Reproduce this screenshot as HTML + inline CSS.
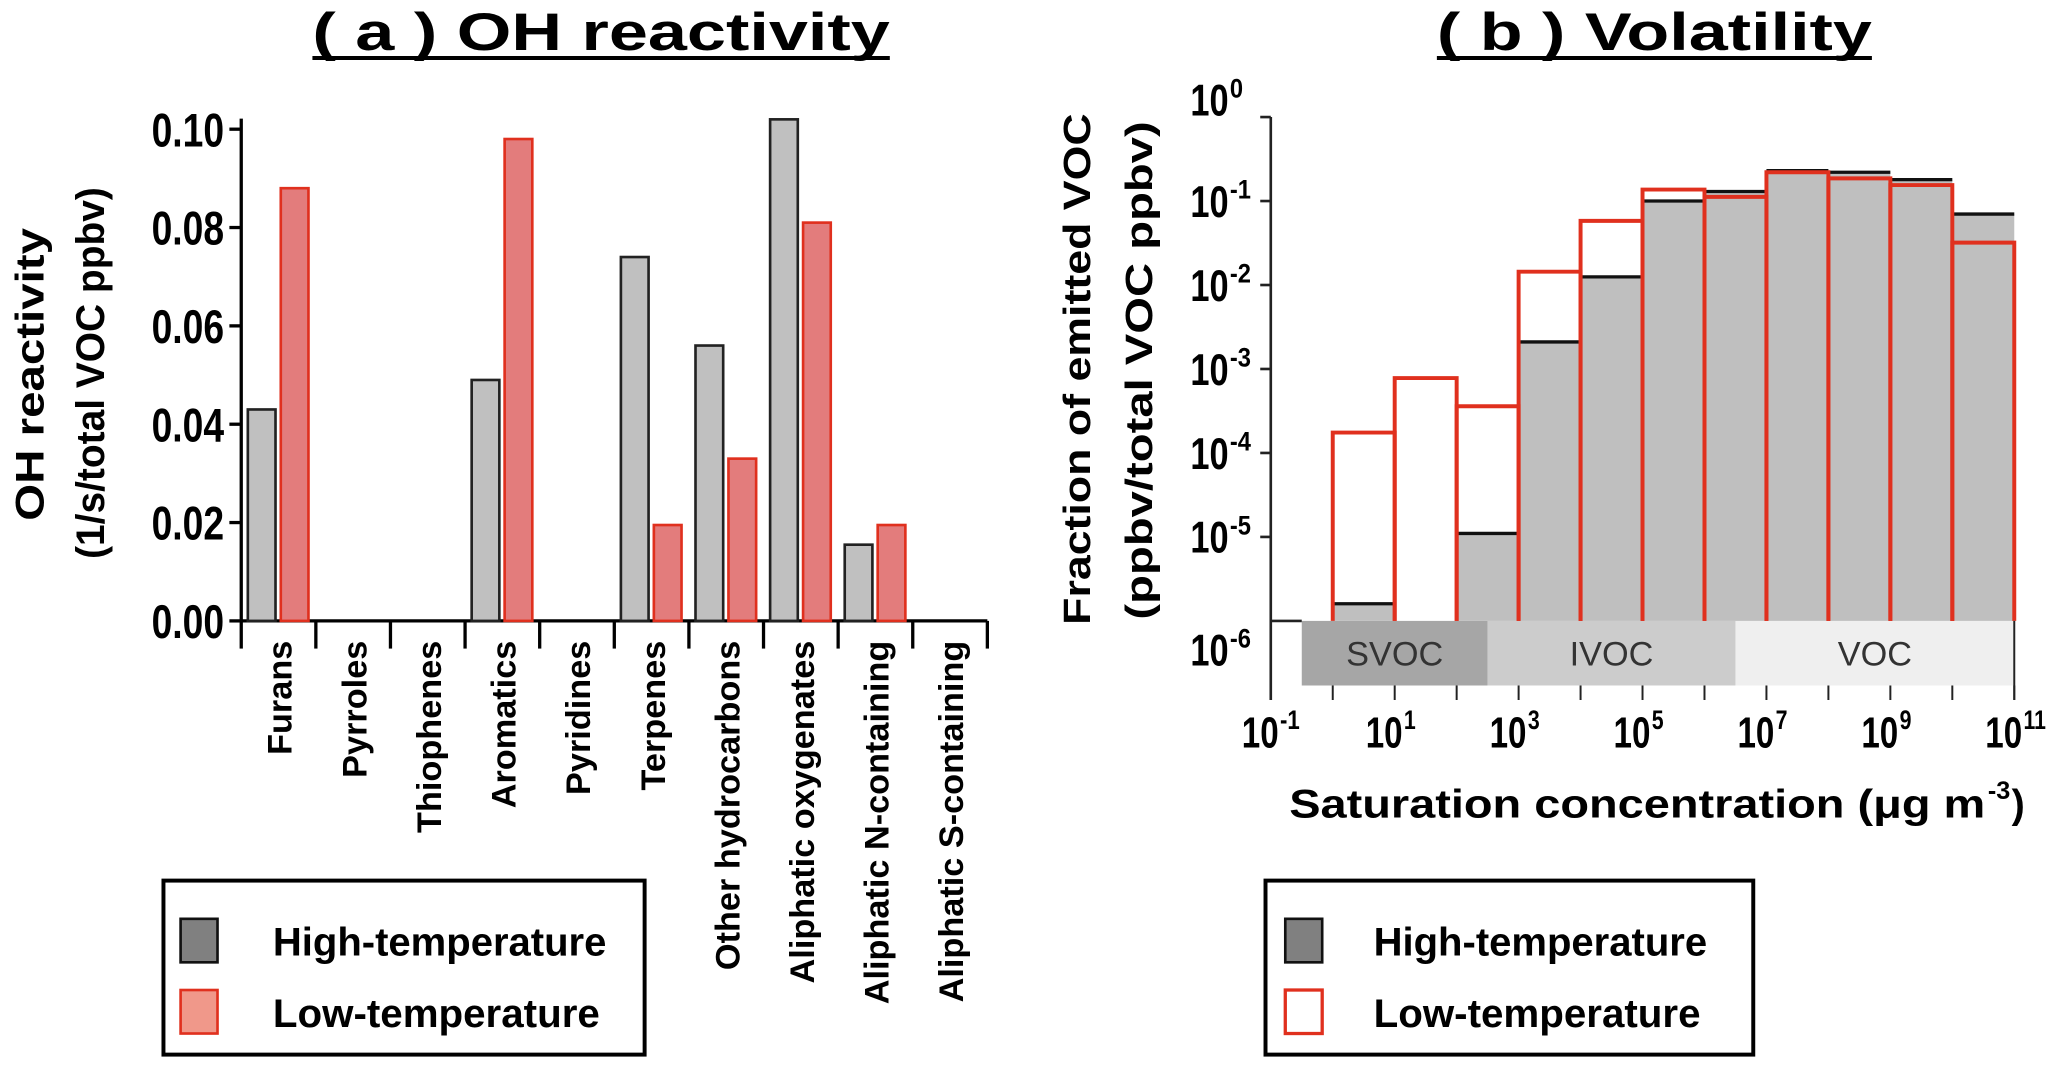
<!DOCTYPE html>
<html><head><meta charset="utf-8">
<style>
html,body{margin:0;padding:0;background:#fff;}
svg{display:block;}
.nb{font-family:"Liberation Sans Narrow","Liberation Sans",sans-serif;font-weight:bold;}
.b{font-family:"Liberation Sans",sans-serif;font-weight:bold;}
</style></head>
<body>
<svg id="chart" width="2067" height="1067" viewBox="0 0 1568 809.4" preserveAspectRatio="none" xmlns="http://www.w3.org/2000/svg">
  <text class="b" x="456" y="38" font-size="40" text-anchor="middle" textLength="438" lengthAdjust="spacingAndGlyphs">( a ) OH reactivity</text>
  <line x1="237" y1="44" x2="675" y2="44" stroke="#000" stroke-width="3"/>
  <text class="b" x="1255" y="38" font-size="40" text-anchor="middle" textLength="330" lengthAdjust="spacingAndGlyphs">( b ) Volatility</text>
  <line x1="1090" y1="44" x2="1420" y2="44" stroke="#000" stroke-width="3"/>

  <g id="panelA"></g>
  <g id="panelB"></g>

  <text class="b" transform="translate(33,284) rotate(-90)" font-size="30" text-anchor="middle" textLength="222" lengthAdjust="spacingAndGlyphs">OH reactivity</text>
  <text class="b" transform="translate(79,283) rotate(-90)" font-size="30" text-anchor="middle" textLength="282" lengthAdjust="spacingAndGlyphs">(1/s/total VOC ppbv)</text>

  <text class="b" transform="translate(827,280) rotate(-90)" font-size="29" text-anchor="middle" textLength="388" lengthAdjust="spacingAndGlyphs">Fraction of emitted VOC</text>
  <text class="b" transform="translate(874,281) rotate(-90)" font-size="29" text-anchor="middle" textLength="378" lengthAdjust="spacingAndGlyphs">(ppbv/total VOC ppbv)</text>
  <text class="b" x="978" y="620" font-size="30" textLength="528" lengthAdjust="spacingAndGlyphs">Saturation concentration (μg  m</text>
  <text class="b" x="1508" y="606" font-size="19" textLength="17" lengthAdjust="spacingAndGlyphs">-3</text>
  <text class="b" x="1526" y="620" font-size="30">)</text>

  <g>
    <rect x="124" y="668" width="365" height="132" fill="#fff" stroke="#000" stroke-width="3"/>
    <rect x="137" y="697" width="28" height="33" fill="#808080" stroke="#111" stroke-width="2"/>
    <text class="nb" x="207" y="725" font-size="30" textLength="253" lengthAdjust="spacingAndGlyphs">High-temperature</text>
    <rect x="137" y="751" width="28" height="33" fill="#f0988a" stroke="#e0301e" stroke-width="2"/>
    <text class="nb" x="207" y="779" font-size="30" textLength="248" lengthAdjust="spacingAndGlyphs">Low-temperature</text>
  </g>
  <g>
    <rect x="960" y="668" width="370" height="132" fill="#fff" stroke="#000" stroke-width="3"/>
    <rect x="975" y="697" width="28" height="33" fill="#808080" stroke="#111" stroke-width="2"/>
    <text class="nb" x="1042" y="725" font-size="30" textLength="253" lengthAdjust="spacingAndGlyphs">High-temperature</text>
    <rect x="975" y="751" width="28" height="33" fill="#fff" stroke="#e0301e" stroke-width="2.5"/>
    <text class="nb" x="1042" y="779" font-size="30" textLength="248" lengthAdjust="spacingAndGlyphs">Low-temperature</text>
  </g>
</svg>
<script>
// Panel a data
const categories = ["Furans","Pyrroles","Thiophenes","Aromatics","Pyridines","Terpenes","Other hydrocarbons","Aliphatic oxygenates","Aliphatic N-containing","Aliphatic S-containing"];
const highTemp = [0.043,0,0,0.049,0,0.074,0.056,0.102,0.0155,0];
const lowTemp = [0.088,0,0,0.098,0,0.0195,0.033,0.081,0.0195,0];
const yTicksA = [0,0.02,0.04,0.06,0.08,0.10];
const yTickLabelsA = ["0.00","0.02","0.04","0.06","0.08","0.10"];
// Panel b data (bins one decade wide, starting at log10 C = binStart)
const binStart = [0,1,2,3,4,5,6,7,8,9,10];
const volHigh = [1.6e-6,null,1.1e-5,2.1e-3,0.0125,0.10,0.13,0.23,0.22,0.18,0.07];
const volLow = [1.75e-4,7.8e-4,3.6e-4,0.0144,0.058,0.137,0.112,0.22,0.186,0.155,0.032];
const yExpB = [0,-1,-2,-3,-4,-5,-6];
const xExpB = [-1,1,3,5,7,9,11];
const bands = ["SVOC","IVOC","VOC"];
const bandRanges = [[-0.5,2.5],[2.5,6.5],[6.5,11]];

const NS = "http://www.w3.org/2000/svg";
function mk(parent, tag, attrs){ const e=document.createElementNS(NS,tag); for(const k in attrs) e.setAttribute(k,attrs[k]); parent.appendChild(e); return e; }

// ---- Panel A
const A = document.getElementById('panelA');
const ax0 = 183, ax1 = 749, ay0 = 471, ayTop = 98;
const yA = v => ay0 - (v/0.10)*(ay0-ayTop);
const catW = (ax1-ax0)/categories.length;
const xA = i => ax0 + i*catW;
let l = mk(A,'line',{x1:ax0,y1:90,x2:ax0,y2:ay0,stroke:'#000','stroke-width':2.5});


l = mk(A,'line',{x1:ax0,y1:ay0,x2:ax1,y2:ay0,stroke:'#000','stroke-width':2.5});


yTicksA.forEach((t,i)=>{
  const y=yA(t);
  const tk=mk(A,'line',{x1:ax0-9,y1:y,x2:ax0,y2:y,stroke:'#000','stroke-width':2.5});
  
  
  const tx=mk(A,'text',{x:115,y:y+13,'font-size':36,class:'nb',textLength:55,lengthAdjust:'spacingAndGlyphs'});
  tx.textContent=yTickLabelsA[i];
  
  
});
for(let i=0;i<=categories.length;i++){
  const tk=mk(A,'line',{x1:xA(i),y1:ay0,x2:xA(i),y2:ay0+21,stroke:'#000','stroke-width':2.5});
  
  
}
categories.forEach((c,i)=>{
  const x0=xA(i);
  const hg=mk(A,'rect',{x:x0+5,y:yA(highTemp[i]),width:21,height:ay0-yA(highTemp[i]),fill:'#c0c0c0',stroke:'#222','stroke-width':2});
  
  
  const lw=mk(A,'rect',{x:x0+30,y:yA(lowTemp[i]),width:21,height:ay0-yA(lowTemp[i]),fill:'#e37c7c',stroke:'#e0301e','stroke-width':2});
  
  
  const cx=x0+catW/2+10;
  const t=mk(A,'text',{transform:`translate(${cx},${ay0+15}) rotate(-90)`,'text-anchor':'end','font-size':26,class:'b'});
  t.textContent=c;
  
  
});

// ---- Panel B
const B = document.getElementById('panelB');
const bx0 = 964, dec = 47, by0 = 471, byTop = 88.8, decY = (by0-byTop)/6;
const xB = e => bx0 + (e+1)*dec;
const yB = v => byTop - Math.log10(v)*decY;
bands.forEach((b,i)=>{
  const fills=['#a6a6a6','#cccccc','#efefef'];
  const r=mk(B,'rect',{x:xB(bandRanges[i][0]),y:by0,width:xB(bandRanges[i][1])-xB(bandRanges[i][0]),height:49,fill:fills[i]});
  
  
  const t=mk(B,'text',{x:(xB(bandRanges[i][0])+xB(bandRanges[i][1]))/2,y:505,'text-anchor':'middle','font-size':26,fill:'#333','font-family':'Liberation Sans, sans-serif'});
  t.textContent=b;
  
  
});
binStart.forEach((s,i)=>{
  if(volHigh[i]==null) return;
  const y=yB(volHigh[i]);
  const r=mk(B,'rect',{x:xB(s),y:y,width:dec,height:by0-y,fill:'#bfbfbf'});
  
  
  const ln=mk(B,'line',{x1:xB(s),y1:y,x2:xB(s)+dec,y2:y,stroke:'#111','stroke-width':2.5});
  
  
});
binStart.forEach((s,i)=>{
  const y=yB(volLow[i]);
  const r=mk(B,'path',{d:`M${xB(s)},${by0} L${xB(s)},${y} L${xB(s)+dec},${y} L${xB(s)+dec},${by0}`,fill:'none',stroke:'#e0301e','stroke-width':3});
  
  
});
l=mk(B,'line',{x1:bx0,y1:by0,x2:xB(-0.5),y2:by0,stroke:'#222','stroke-width':2});


l=mk(B,'line',{x1:bx0,y1:byTop,x2:bx0,y2:531,stroke:'#222','stroke-width':2});


l=mk(B,'line',{x1:xB(11),y1:by0,x2:xB(11),y2:531,stroke:'#222','stroke-width':1.5});


for(let e=0;e<=11;e++){
  const tk=mk(B,'line',{x1:xB(e),y1:520,x2:xB(e),y2:531,stroke:'#222','stroke-width':1.5});
  
  
}
yExpB.forEach(e=>{
  const y=yB(Math.pow(10,e));
  if(e>-6){
    const tk=mk(B,'line',{x1:bx0-8,y1:y,x2:bx0,y2:y,stroke:'#222','stroke-width':2});
    
    
  }
  const ly = e===0 ? y-1 : (e===-6 ? 505 : y+12);
  const xs = e===0 ? 903 : 903;
  const t=mk(B,'text',{x:xs,y:ly,'font-size':34,class:'nb',textLength:29,lengthAdjust:'spacingAndGlyphs'});
  t.textContent='10';
  
  
  const s=mk(B,'text',{x:xs+30,y:ly-14,'font-size':20,class:'nb',textLength:e===0?10:16,lengthAdjust:'spacingAndGlyphs'});
  s.textContent=String(e);
  
  
});
xExpB.forEach(e=>{
  const x=xB(e);
  const t=mk(B,'text',{x:x-22,y:567,'font-size':33,class:'nb',textLength:28,lengthAdjust:'spacingAndGlyphs'});
  t.textContent='10';
  
  
  const s=mk(B,'text',{x:x+7,y:553,'font-size':20,class:'nb',textLength:e<0?15:(e>9?17:9),lengthAdjust:'spacingAndGlyphs'});
  s.textContent=String(e);
  
  
});
</script>
</body></html>
